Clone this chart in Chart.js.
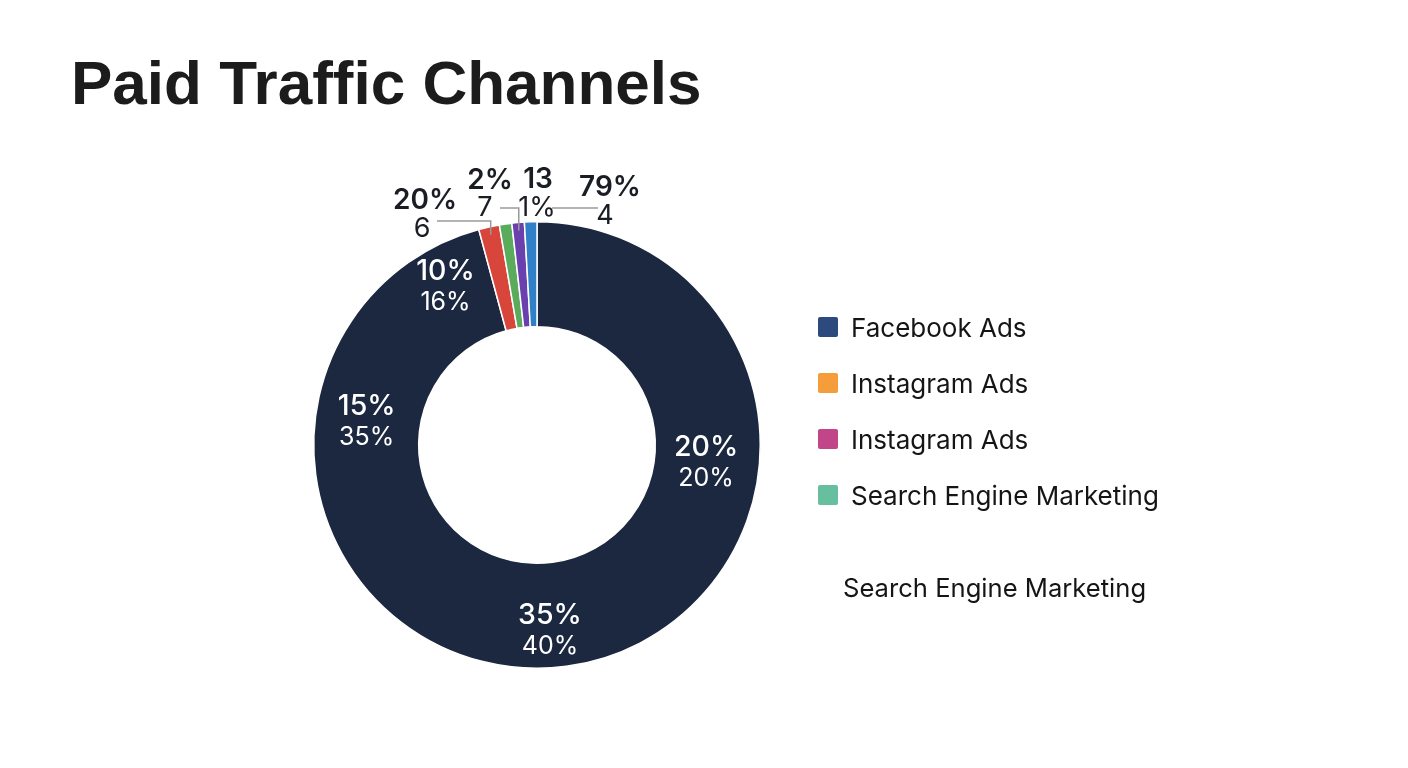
<!DOCTYPE html>
<html>
<head>
<meta charset="utf-8">
<script src="https://cdn.jsdelivr.net/npm/chart.js@4.4.0/dist/chart.umd.min.js"></script>
<style>
  body { margin: 0; background: #fff; font-family: Inter, "Noto Sans", sans-serif; }
  #wrap { position: relative; width: 1408px; height: 768px; overflow: hidden; }
  #title { position: absolute; left: 71px; top: 47px; margin: 0; font-family: "Liberation Sans", Arial, sans-serif; font-weight: 700; font-size: 62px; color: #1c1c1c; }
  #chart { position: absolute; left: 0; top: 0; }
  #legend { position: absolute; left: 818px; top: 310px; }
  .item { display: flex; align-items: center; height: 56px; font-size: 26px; color: #151515; }
  .box { width: 20px; height: 20px; border-radius: 2px; margin-right: 13px; margin-top: -22px; }
  .item span { margin-top: -22px; }
  #extra { position: absolute; left: 843px; top: 572px; font-size: 25.6px; color: #151515; }
</style>
</head>
<body>
<div id="wrap">
  <h1 id="title">Paid Traffic Channels</h1>
  <canvas id="chart" width="1408" height="768"></canvas>
  <div id="legend"></div>
  <div id="extra"></div>
</div>
<script>
// slices, clockwise from 12 o'clock
const sliceNames = ['Facebook Ads', 'Instagram Ads', 'Instagram Ads', 'Search Engine Marketing', 'Search Engine Marketing'];
const sliceValues = [95.8, 1.5, 0.9, 0.9, 0.9];
const sliceColors = ['#1b2840', '#d8453b', '#5aab5c', '#6a3fae', '#2f80c6'];

// legend swatches (as shown in the picture, they don't match the slices)
const legendColors = ['#2c4a7e', '#f59d3a', '#c2458a', '#67bf9f'];

// white labels sitting on the dark ring
const innerTop = ['20%', '35%', '15%', '10%'];
const innerBottom = ['20%', '40%', '35%', '16%'];

// labels above the small slices
const outerTop = ['20%', '2%', '13', '79%'];
const outerBottom = ['6', '7', '1%', '4'];

// where each inner label goes: angle clockwise from top (deg), distance from centre (px)
const innerPlaces = [
    { angle: 96, dist: 170 },
    { angle: 176, dist: 186 },
    { angle: 278, dist: 172 },
    { angle: 330, dist: 183 }
];

// outer label offsets from the centre, and leader lines
const outerPlaces = [
    { top: [-112, -244], bottom: [-115, -216], leader: { slice: 1, elbowY: -224, endX: -100 } },
    { top: [-47, -264], bottom: [-52, -237], leader: { slice: 3, elbowY: -237, endX: -37 } },
    { top: [1, -265], bottom: [0, -237], leader: null },
    { top: [73, -257], bottom: [68, -229], leader: { line: [15, 61], y: -237 } }
];

const labelPlugin = {
    id: 'labelPlugin',
    afterDatasetsDraw(chart) {
        const ctx = chart.ctx;
        const arcs = chart.getDatasetMeta(0).data;
        const cx = arcs[0].x, cy = arcs[0].y;
        const R = arcs[0].outerRadius;

        ctx.save();
        ctx.textAlign = 'center';
        ctx.textBaseline = 'middle';

        // inner labels
        innerTop.forEach((txt, i) => {
            const p = innerPlaces[i];
            const a = (p.angle - 90) * Math.PI / 180;
            const x = cx + Math.cos(a) * p.dist;
            const y = cy + Math.sin(a) * p.dist;
            ctx.fillStyle = '#ffffff';
            ctx.font = '500 28.5px Inter';
            ctx.fillText(txt, x, y - 15);
            ctx.font = '400 25px Inter';
            ctx.fillText(innerBottom[i], x, y + 16);
        });

        // leader lines
        ctx.strokeStyle = '#9a9a9a';
        ctx.lineWidth = 1.5;
        outerPlaces.forEach(p => {
            const l = p.leader;
            if (!l) return;
            ctx.beginPath();
            if (l.slice !== undefined) {
                const arc = arcs[l.slice];
                const mid = (arc.startAngle + arc.endAngle) / 2;
                const ax = cx + Math.cos(mid) * (R - 8);
                const ay = cy + Math.sin(mid) * (R - 8);
                ctx.moveTo(ax, ay);
                ctx.lineTo(ax, cy + l.elbowY);
                ctx.lineTo(cx + l.endX, cy + l.elbowY);
            } else {
                ctx.moveTo(cx + l.line[0], cy + l.y);
                ctx.lineTo(cx + l.line[1], cy + l.y);
            }
            ctx.stroke();
        });

        // outer labels
        ctx.fillStyle = '#1a1d24';
        outerTop.forEach((txt, i) => {
            const p = outerPlaces[i];
            ctx.font = '600 28px Inter';
            ctx.fillText(txt, cx + p.top[0], cy + p.top[1]);
            ctx.font = '400 27px Inter';
            ctx.fillText(outerBottom[i], cx + p.bottom[0], cy + p.bottom[1]);
        });
        ctx.restore();
    }
};

function buildLegend() {
    const legend = document.getElementById('legend');
    legendColors.forEach((color, i) => {
        const item = document.createElement('div');
        item.className = 'item';
        const box = document.createElement('div');
        box.className = 'box';
        box.style.background = color;
        const label = document.createElement('span');
        label.textContent = sliceNames[i];
        item.appendChild(box);
        item.appendChild(label);
        legend.appendChild(item);
    });
    document.getElementById('extra').textContent = sliceNames[4];
}

function displayChart() {
    const ctx = document.getElementById('chart').getContext('2d');
    new Chart(ctx, {
        type: 'doughnut',
        data: {
            labels: sliceNames,
            datasets: [{
                data: sliceValues,
                backgroundColor: sliceColors,
                borderColor: '#ffffff',
                borderWidth: 1.5
            }]
        },
        options: {
            responsive: false,
            animation: false,
            cutout: '53%',
            layout: { padding: { left: 313, top: 221, right: 647, bottom: 99 } },
            plugins: {
                legend: { display: false },
                tooltip: { enabled: false }
            }
        },
        plugins: [labelPlugin]
    });
    buildLegend();
}

document.addEventListener('DOMContentLoaded', displayChart);
</script>
</body>
</html>
